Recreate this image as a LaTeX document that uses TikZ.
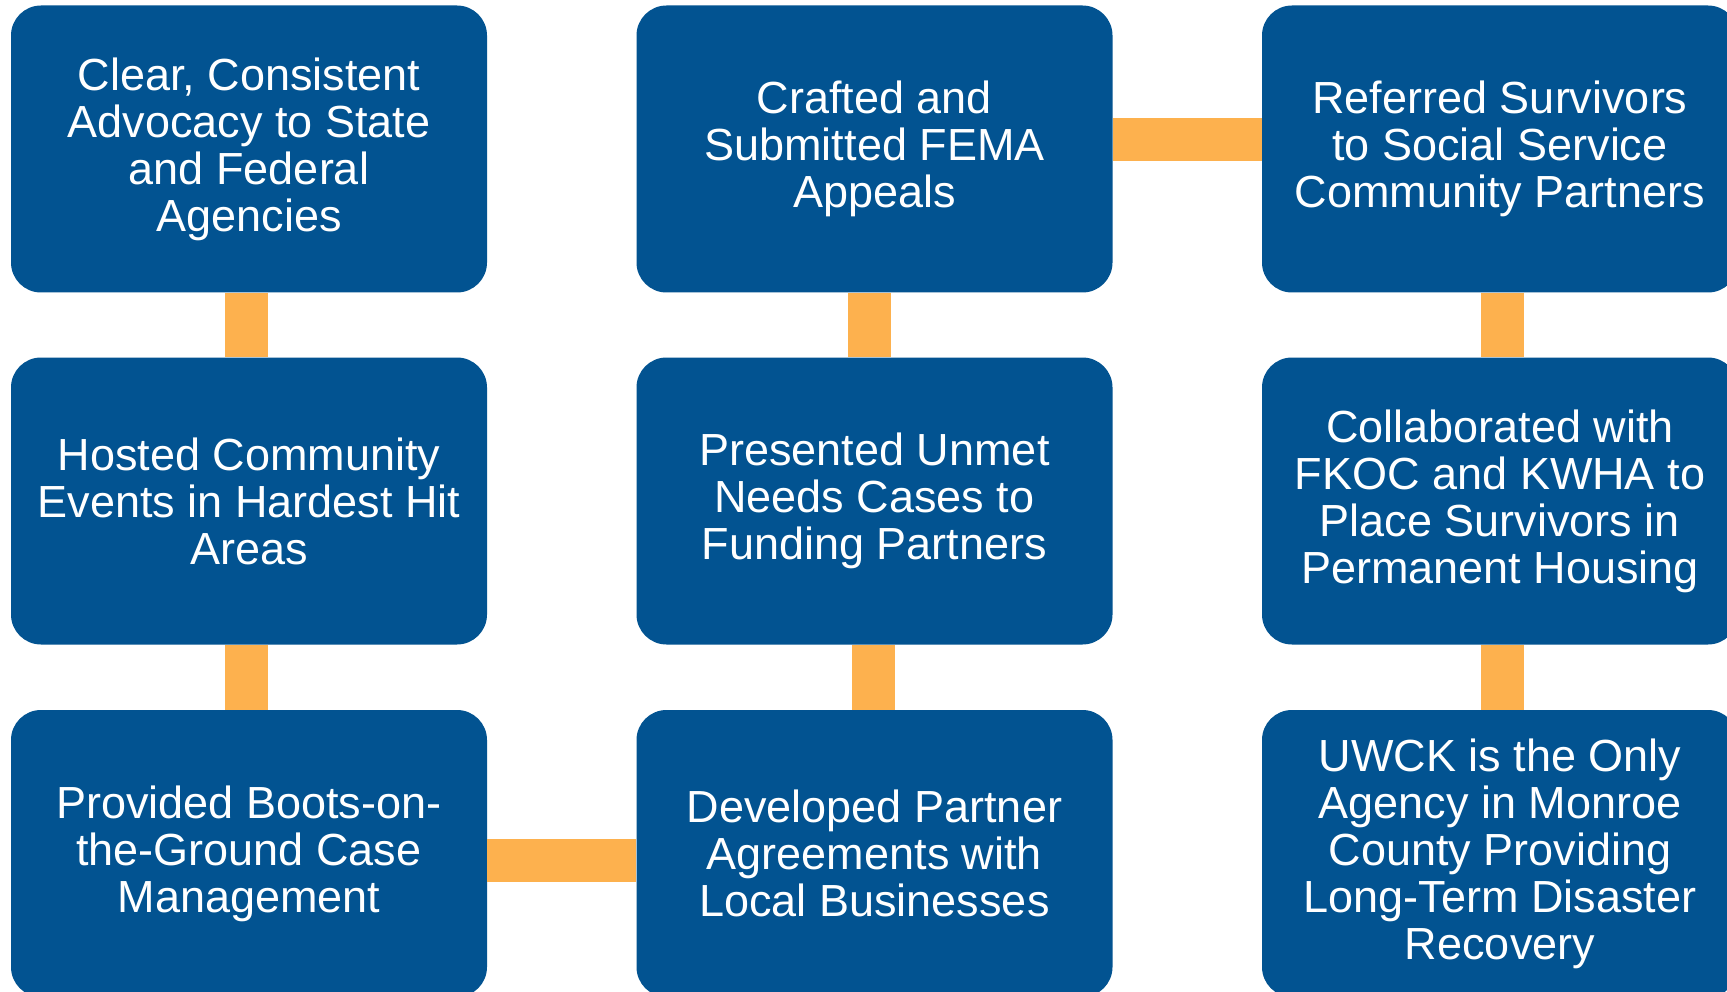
\documentclass[tikz,border=0pt]{standalone}
\usepackage{fontspec}
\setmainfont{Liberation Sans}
\definecolor{boxblue}{RGB}{2,83,145}
\definecolor{linkorange}{RGB}{253,177,78}
\begin{document}
\begin{tikzpicture}[x=1pt,y=1pt,
  card/.style={draw=none,fill=boxblue,rounded corners=30pt,minimum width=476pt,minimum height=287pt,
    inner sep=0pt,text=white,align=center,font=\fontsize{45}{47}\selectfont},
  link/.style={draw=linkorange,line width=43pt}]
\clip (0,0) rectangle (1727,-992);
\fill[white] (0,0) rectangle (1727,-992);
% nodes
\node[card] (a1) at (249,-149) {Clear, Consistent\\Advocacy to State\\and Federal\\Agencies};
\node[card] (a2) at (249,-501) {Hosted Community\\Events in Hardest Hit\\Areas};
\node[card] (a3) at (249,-853.5) {Provided Boots-on-\\the-Ground Case\\Management};
\node[card] (b1) at (874.5,-149) {Crafted and\\Submitted FEMA\\Appeals};
\node[card] (b2) at (874.5,-501) {Presented Unmet\\Needs Cases to\\Funding Partners};
\node[card] (b3) at (874.5,-853.5) {Developed Partner\\Agreements with\\Local Businesses};
\node[card] (c1) at (1500,-149) {Referred Survivors\\to Social Service\\Community Partners};
\node[card] (c2) at (1500,-501) {Collaborated with\\FKOC and KWHA to\\Place Survivors in\\Permanent Housing};
\node[card] (c3) at (1500,-853.5) {UWCK is the Only\\Agency in Monroe\\County Providing\\Long-Term Disaster\\Recovery};
% connectors
\draw[link] ([xshift=-2.5pt]a1.south) -- ([xshift=-2.5pt]a2.north);
\draw[link] ([xshift=-2.5pt]a2.south) -- ([xshift=-2.5pt]a3.north);
\draw[link] ([xshift=-5pt]b1.south) -- ([xshift=-5pt]b2.north);
\draw[link] ([xshift=-1pt]b2.south) -- ([xshift=-1pt]b3.north);
\draw[link] ([xshift=2.5pt]c1.south) -- ([xshift=2.5pt]c2.north);
\draw[link] ([xshift=2.5pt]c2.south) -- ([xshift=2.5pt]c3.north);
\draw[link] ([yshift=9.5pt]b1.east) -- ([yshift=9.5pt]c1.west);
\draw[link] ([yshift=-7pt]a3.east) -- ([yshift=-7pt]b3.west);
\end{tikzpicture}
\end{document}
